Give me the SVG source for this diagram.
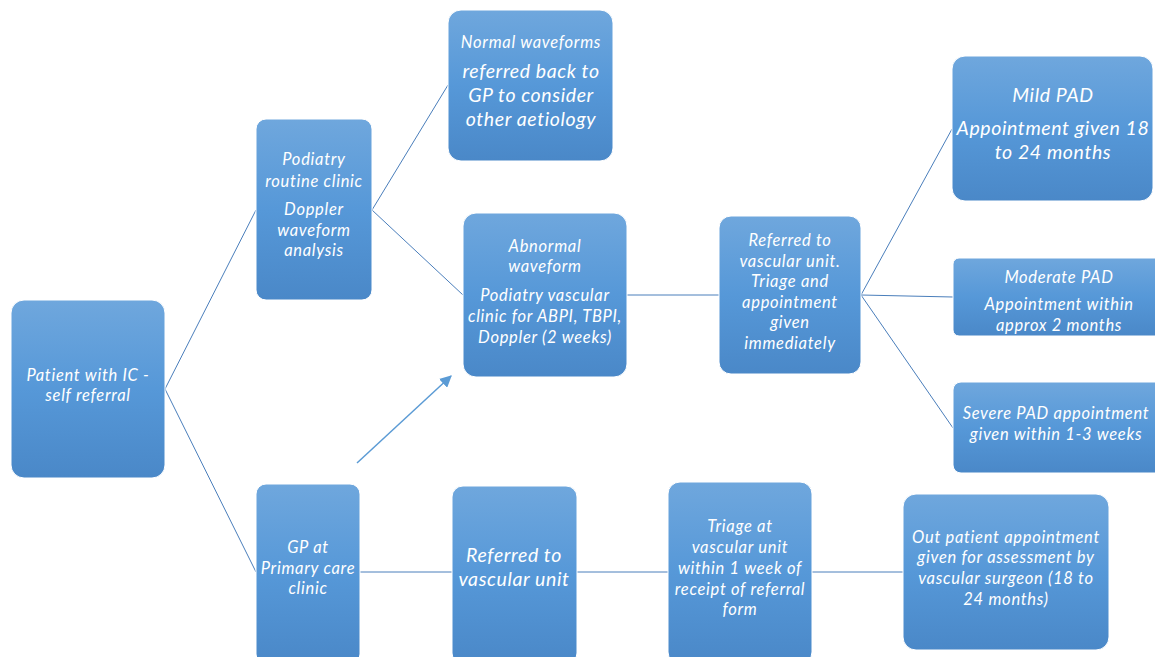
<svg xmlns="http://www.w3.org/2000/svg" width="1155" height="657" viewBox="0 0 1155 657">
  <defs>
    <linearGradient id="boxFill" x1="0" y1="0" x2="0" y2="1">
      <stop offset="0" stop-color="#6fa7dd"/>
      <stop offset="0.5" stop-color="#5698d8"/>
      <stop offset="1" stop-color="#4a88c8"/>
    </linearGradient>
    <marker id="arrowHead" viewBox="0 0 10 10" refX="9" refY="5" markerWidth="8" markerHeight="8" orient="auto" markerUnits="strokeWidth">
      <path d="M0,0 L10,5 L0,10 z" fill="#5b9bd5"/>
    </marker>
  </defs>
  <style>
    .box { fill: url(#boxFill); stroke: #ffffff; stroke-width: 1; }
    .lbl { font-family: Lato, "Open Sans", "Liberation Sans", Arial, sans-serif; font-style: italic; fill: #ffffff; text-anchor: middle; font-size: 16.5px; letter-spacing: 0.7px; }
    .big { font-size: 19.5px; letter-spacing: 0.6px; }
    .link { stroke: #4a7ebb; stroke-width: 1; fill: none; }
    .arrow { stroke: #5b9bd5; stroke-width: 1.5; fill: none; }
  </style>
  <rect width="1155" height="657" fill="#ffffff"/>

  <g id="connectors">
    <line class="link" x1="165" y1="389" x2="256" y2="210"/>
    <line class="link" x1="165" y1="389" x2="256" y2="572"/>
    <line class="link" x1="372" y1="210" x2="448" y2="85"/>
    <line class="link" x1="372" y1="210" x2="463" y2="295"/>
    <line class="link" x1="627" y1="295" x2="719" y2="295"/>
    <line class="link" x1="861" y1="295" x2="952" y2="129"/>
    <line class="link" x1="861" y1="295" x2="953" y2="297"/>
    <line class="link" x1="861" y1="295" x2="953" y2="428"/>
    <line class="link" x1="360" y1="572" x2="452" y2="572"/>
    <line class="link" x1="577" y1="572" x2="668" y2="572"/>
    <line class="link" x1="812" y1="572" x2="903" y2="572"/>
    <line class="arrow" x1="357" y1="463" x2="451" y2="376" marker-end="url(#arrowHead)"/>
  </g>

  <g id="patient">
    <rect class="box" x="11" y="300" width="154" height="178" rx="13"/>
    <text class="lbl" x="88" y="381">Patient with IC -</text>
    <text class="lbl" x="88" y="401">self referral</text>
  </g>

  <g id="podiatry-routine">
    <rect class="box" x="256" y="119" width="116" height="181" rx="10"/>
    <text class="lbl" x="314" y="165">Podiatry</text>
    <text class="lbl" x="314" y="187">routine clinic</text>
    <text class="lbl" x="314" y="215">Doppler</text>
    <text class="lbl" x="314" y="236">waveform</text>
    <text class="lbl" x="314" y="256">analysis</text>
  </g>

  <g id="normal-waveforms">
    <rect class="box" x="448" y="10" width="165" height="151" rx="13"/>
    <text class="lbl" x="531" y="48">Normal waveforms</text>
    <text class="lbl big" x="531" y="78">referred back to</text>
    <text class="lbl big" x="531" y="102">GP to consider</text>
    <text class="lbl big" x="531" y="126">other aetiology</text>
  </g>

  <g id="abnormal-waveform">
    <rect class="box" x="463" y="213" width="164" height="164" rx="13"/>
    <text class="lbl" x="545" y="252">Abnormal</text>
    <text class="lbl" x="545" y="272">waveform</text>
    <text class="lbl" x="545" y="301">Podiatry vascular</text>
    <text class="lbl" x="545" y="322">clinic for ABPI, TBPI,</text>
    <text class="lbl" x="545" y="343">Doppler (2 weeks)</text>
  </g>

  <g id="vascular-triage">
    <rect class="box" x="719" y="216" width="142" height="158" rx="12"/>
    <text class="lbl" x="790" y="246">Referred to</text>
    <text class="lbl" x="790" y="267">vascular unit.</text>
    <text class="lbl" x="790" y="287">Triage and</text>
    <text class="lbl" x="790" y="308">appointment</text>
    <text class="lbl" x="790" y="328">given</text>
    <text class="lbl" x="790" y="349">immediately</text>
  </g>

  <g id="mild-pad">
    <rect class="box" x="952" y="56" width="201" height="145" rx="13"/>
    <text class="lbl big" x="1053" y="102">Mild PAD</text>
    <text class="lbl big" x="1053" y="135">Appointment given 18</text>
    <text class="lbl big" x="1053" y="159">to 24 months</text>
  </g>

  <g id="moderate-pad">
    <rect class="box" x="953" y="258" width="212" height="78" rx="6"/>
    <text class="lbl" x="1059" y="283">Moderate PAD</text>
    <text class="lbl" x="1059" y="310">Appointment within</text>
    <text class="lbl" x="1059" y="331">approx 2 months</text>
  </g>

  <g id="severe-pad">
    <rect class="box" x="953" y="382" width="212" height="91" rx="8"/>
    <text class="lbl" x="1056" y="419">Severe PAD appointment</text>
    <text class="lbl" x="1056" y="440">given within 1-3 weeks</text>
  </g>

  <g id="gp-clinic">
    <rect class="box" x="256" y="484" width="104" height="180" rx="10"/>
    <text class="lbl" x="308" y="553">GP at</text>
    <text class="lbl" x="308" y="574">Primary care</text>
    <text class="lbl" x="308" y="594">clinic</text>
  </g>

  <g id="referred-vascular">
    <rect class="box" x="452" y="486" width="125" height="178" rx="11"/>
    <text class="lbl big" x="514" y="562">Referred to</text>
    <text class="lbl big" x="514" y="586">vascular unit</text>
  </g>

  <g id="triage-week">
    <rect class="box" x="668" y="482" width="144" height="182" rx="12"/>
    <text class="lbl" x="740" y="532">Triage at</text>
    <text class="lbl" x="740" y="553">vascular unit</text>
    <text class="lbl" x="740" y="574">within 1 week of</text>
    <text class="lbl" x="740" y="595">receipt of referral</text>
    <text class="lbl" x="740" y="615">form</text>
  </g>

  <g id="outpatient">
    <rect class="box" x="903" y="494" width="206" height="156" rx="13"/>
    <text class="lbl" x="1006" y="543">Out patient appointment</text>
    <text class="lbl" x="1006" y="563">given for assessment by</text>
    <text class="lbl" x="1006" y="584">vascular surgeon (18 to</text>
    <text class="lbl" x="1006" y="605">24 months)</text>
  </g>
</svg>
